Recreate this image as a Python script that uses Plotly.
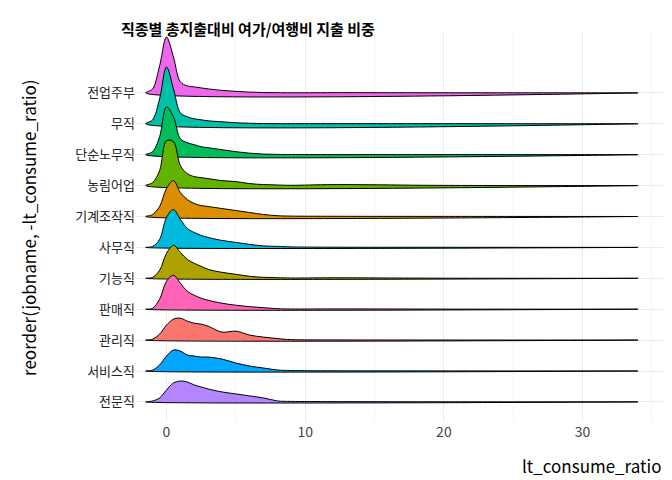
import plotly.graph_objects as go

jobs = ["전문직","서비스직","관리직","판매직","기능직","사무직","기계조작직","농림어업","단순노무직","무직","전업주부"]
colors = ["#B385FF","#00A6FF","#F8766D","#FF63B6","#AEA200","#00BADE","#DB8E00","#64B200","#00BD5C","#00C1A7","#EF67EB"]
xgrid = [-1.5,-1,-0.5,0,0.5,1,1.5,2,2.5,3,4,5,6,7,8,9,12,20,34]
# ridge heights (in units where 31 = one row spacing)
heights = {
 "전업주부":[0,4,27,56,36,11,7,6,5,4,2.5,1.5,0.8,0.3,0.2,0.1,0.2,0.1,0],
 "무직":[0,4,25,57,35,11,7,5,4,3,2,1,0.5,0.2,0.1,0.1,0.1,0.1,0],
 "단순노무직":[0,3,18,48,38,16,12,10,8,7,5,3,1.5,0.6,0.3,0.2,0.1,0.1,0],
 "농림어업":[0,3,15,45,44,20,12,9,8,7,5,4,2,1,0.6,0.3,1,0.2,0],
 "기계조작직":[0,2,10,28,36,24,17,13,11,10,8,6,4,2,0.8,0.4,0.2,0.1,0],
 "사무직":[0,1,8,30,38,28,19,15,12,10,7,5,3,1.5,1,0.5,0.2,0.1,0],
 "기능직":[0,1,8,25,33,26,19,15,12,9,6,4,2,1,0.6,0.3,0.5,0.1,0],
 "판매직":[0,1,10,28,34,26,18,14,11,9,6,4,2.5,1.5,0.5,0.2,0.3,0.1,0],
 "관리직":[0,1,6,15,21,22,19,17,16,14,8,9,5,3,1.5,0.5,0.2,0.1,0],
 "서비스직":[0,1,6,15,21,20,16,15,14,14,12,8,5,3,1,0.5,0.2,0.1,0],
 "전문직":[0,1,4,12,19,21,20,17,15,13,10,8,6,4,1,0.5,0.3,0.1,0],
}
SCALE = 31.0

fig = go.Figure()
for i in range(len(jobs)-1, -1, -1):
    j = jobs[i]; base = i+1
    ys = [base + h/SCALE for h in heights[j]]
    fig.add_trace(go.Scatter(x=xgrid+[xgrid[-1], xgrid[0]], y=ys+[base, base], fill="toself",
        fillcolor=colors[i], line=dict(color="black", width=1, shape="spline", smoothing=1.0),
        mode="lines", showlegend=False, hoverinfo="skip"))

fig.update_layout(
    width=672, height=480, plot_bgcolor="white", paper_bgcolor="white",
    margin=dict(l=128, r=17, t=24, b=66),
    font=dict(family="Noto Sans CJK KR", size=13, color="#333"),
    title=dict(text="<b>직종별 총지출대비 여가/여행비 지출 비중</b>", x=0.168, xanchor="left", y=0.965, font=dict(size=15, color="black")),
    xaxis=dict(range=[-2.2, 35.8], tickvals=[0,10,20,30], showgrid=True, gridcolor="#EBEBEB",
               minor=dict(tickvals=[5,15,25,35], showgrid=True, gridcolor="#F3F3F3"),
               zeroline=False, tickfont=dict(size=14, color="#444"), automargin=False),
    yaxis=dict(range=[0.35, 12.97], tickvals=list(range(1,12)), ticktext=jobs, showgrid=True, gridcolor="#EBEBEB",
               zeroline=False, tickfont=dict(size=13, color="#222"), automargin=False),
    annotations=[
        dict(text="lt_consume_ratio", xref="paper", yref="paper", x=1.0, y=-0.075, xanchor="right", yanchor="top",
             showarrow=False, font=dict(size=17, color="black")),
        dict(text="reorder(jobname, -lt_consume_ratio)", xref="paper", yref="paper", x=-0.205, y=0.5, textangle=-90,
             xanchor="center", yanchor="middle", showarrow=False, font=dict(size=17, color="black")),
    ],
)
fig.write_html("out.html")
